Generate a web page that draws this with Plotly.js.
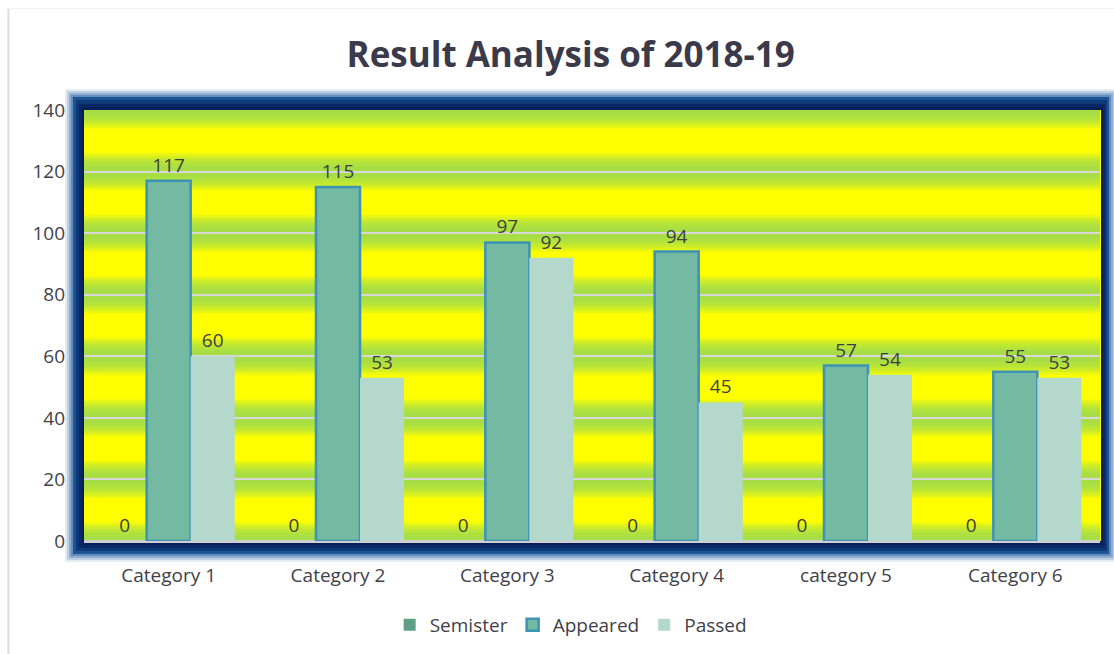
<!DOCTYPE html>
<html>
<head>
<meta charset="utf-8">
<script src="https://cdn.plot.ly/plotly-3.0.1.min.js"></script>
<style>html,body{margin:0;padding:0;background:#fff;}#chart{width:1114px;height:654px;}</style>
</head>
<body>
<div id="chart"></div>
<script>
const categories = ["Category 1", "Category 2", "Category 3", "Category 4", "category 5", "Category 6"];
const semister = [0, 0, 0, 0, 0, 0];
const appeared = [117, 115, 97, 94, 57, 55];
const passed = [60, 53, 92, 45, 54, 53];
const yTicks = [0, 20, 40, 60, 80, 100, 120, 140];

const txtFont = {family: "Open Sans, sans-serif", size: 19, color: "#3f3f3f"};

const traces = [
  {type: "bar", name: "Semister", x: categories, y: semister,
   marker: {color: "#5f9f88"}, text: semister.map(String), textposition: "outside",
   textfont: txtFont, cliponaxis: false},
  {type: "bar", name: "Appeared", x: categories, y: appeared,
   marker: {color: "#74b9a2", line: {color: "#3d93b6", width: 2.5}},
   text: appeared.map(String), textposition: "outside",
   textfont: txtFont, cliponaxis: false},
  {type: "bar", name: "Passed", x: categories, y: passed,
   marker: {color: "#b4d8cc"},
   text: passed.map(String), textposition: "outside",
   textfont: txtFont, cliponaxis: false}
];

const shapes = [];
const pxX = px => (px - 84) / 1015;
const pxY = py => (541 - py) / 431;
function prect(x0, x1, y0, y1, color, op) {
  shapes.push({type: "rect", xref: "paper", yref: "paper", layer: "below",
    x0: pxX(x0), x1: pxX(x1), y0: pxY(y1), y1: pxY(y0),
    fillcolor: color, opacity: op, line: {width: 0}});
}
// light chart border
shapes.push({type: "line", xref: "paper", yref: "paper", x0: pxX(8.5), x1: pxX(8.5), y0: pxY(8), y1: pxY(654), line: {color: "#dcdce4", width: 2}, layer: "below"});
shapes.push({type: "line", xref: "paper", yref: "paper", x0: pxX(8), x1: pxX(1114), y0: pxY(8.5), y1: pxY(8.5), line: {color: "#f2f2f4", width: 1}, layer: "below"});
// blurred dark frame
[[8, 0.12], [6, 0.2], [4, 0.3], [2, 0.45]].forEach(([d, op]) => {
  prect(73 - d, 1108 + d, 97 - d, 554 + d, "#2a64a4", op);
});
prect(73, 1108, 97, 554, "#1c5494", 1);
prect(76, 1106, 100, 551, "#0f3a7a", 1);
prect(79, 1104, 104, 548, "#0a2868", 1);
prect(82, 1102, 107, 545, "#071e58", 1);
prect(84, 1100, 110, 541, "#ffff00", 1);
// green gradient bands around grid lines
yTicks.forEach(g => {
  [6.0, 5.2, 4.5, 3.8, 3.1, 2.4, 1.6].forEach(h => {
    shapes.push({type: "rect", xref: "paper", yref: "y", layer: "below",
      x0: 0, x1: 1, y0: Math.max(0, g - h), y1: Math.min(140, g + h),
      fillcolor: "#92d85c", opacity: 0.2, line: {width: 0}});
  });
});

const layout = {
  width: 1114, height: 654,
  margin: {l: 84, r: 14, t: 110, b: 113},
  paper_bgcolor: "#ffffff",
  plot_bgcolor: "rgba(0,0,0,0)",
  title: {text: "<b>Result Analysis of 2018-19</b>", x: 0.479, xanchor: "center", xref: "paper",
    y: 1 - 55 / 654, yanchor: "middle", yref: "container",
    font: {family: "Open Sans, sans-serif", size: 35, color: "#3a3a4a"}},
  barmode: "group", bargap: 0.22, bargroupgap: 0,
  xaxis: {showgrid: false, showline: false, ticks: "", ticklabelstandoff: 21, automargin: false,
    tickfont: {family: "Open Sans, sans-serif", size: 19, color: "#3f3f4a"}},
  yaxis: {range: [0, 140], tickvals: yTicks, showgrid: true, gridcolor: "#d8d8d8", gridwidth: 2,
    zeroline: true, zerolinecolor: "#d0d0d4", zerolinewidth: 3, showline: false, ticks: "",
    ticklabelstandoff: 18, automargin: false,
    tickfont: {family: "Open Sans, sans-serif", size: 19, color: "#3f3f4a"}},
  legend: {orientation: "h", x: 0.479, xanchor: "center", xref: "paper",
    y: 1 - 625 / 654, yanchor: "middle", yref: "container",
    font: {family: "Open Sans, sans-serif", size: 19, color: "#3f3f4a"}, itemwidth: 30},
  shapes: shapes,
  showlegend: true
};

Plotly.newPlot("chart", traces, layout, {displayModeBar: false, staticPlot: true});
</script>
</body>
</html>
